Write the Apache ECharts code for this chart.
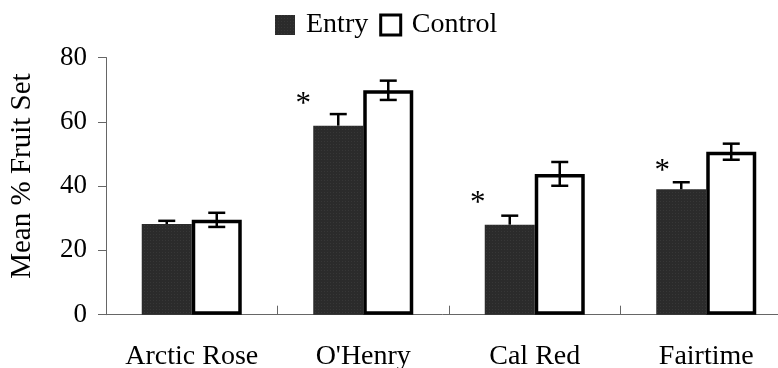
<!DOCTYPE html>
<html>
<head>
<meta charset="utf-8">
<script src="https://cdn.jsdelivr.net/npm/echarts@6/dist/echarts.min.js"></script>
<style>
html,body{margin:0;padding:0;background:#fff;}
#chart{width:778px;height:368px;}
</style>
</head>
<body>
<div id="chart"></div>
<script>
// ---- data ----
var categories = ['Arctic Rose', "O'Henry", 'Cal Red', 'Fairtime'];
var entryMean = [28.2, 58.8, 28.0, 39.0];
var entryErr = [1.0, 3.6, 2.8, 2.2];
var controlMean = [29.5, 69.8, 43.8, 50.7];
var controlErr = [2.2, 3.0, 3.7, 2.5];
var significant = [false, true, true, true];
var yTicks = [0, 20, 40, 60, 80];

var FONT = '"Liberation Serif", "Times New Roman", serif';

var chart = echarts.init(document.getElementById('chart'), null, {renderer: 'canvas'});

function errSeries(name, means, errs, dx, upperOnly) {
  return {
    type: 'custom',
    name: name + ' err',
    z: 10,
    silent: true,
    data: means.map(function (m, i) { return [i, m, errs[i]]; }),
    renderItem: function (params, api) {
      var i = api.value(0), m = api.value(1), e = api.value(2);
      var top = api.coord([i, m + e]);
      var bot = api.coord([i, upperOnly ? m : m - e]);
      var x = top[0] + dx;
      var cap = 8.5;
      var children = [
        {type: 'line', shape: {x1: x, y1: top[1], x2: x, y2: bot[1]}, style: {stroke: '#000', lineWidth: 2.5}},
        {type: 'line', shape: {x1: x - cap, y1: top[1], x2: x + cap, y2: top[1]}, style: {stroke: '#000', lineWidth: 2.5}}
      ];
      if (!upperOnly) {
        children.push({type: 'line', shape: {x1: x - cap, y1: bot[1], x2: x + cap, y2: bot[1]}, style: {stroke: '#000', lineWidth: 2.5}});
      }
      return {type: 'group', children: children};
    }
  };
}

var asteriskOffsets = [[0, 0], [-35, 0], [-32, 0], [-19, 3]];

var option = {
  backgroundColor: '#fff',
  animation: false,
  legend: {
    data: [
      {name: 'Entry', icon: 'rect'},
      {name: 'Control', icon: 'rect', itemStyle: {color: '#fff', borderColor: '#000', borderWidth: 3}}
    ],
    left: 275,
    top: 11,
    padding: 0,
    itemWidth: 20,
    itemHeight: 20,
    itemGap: 11,
    textStyle: {fontFamily: FONT, fontSize: 28, color: '#000', padding: [0, 0, 0, 6]}
  },
  grid: {left: 106, top: 57.5, width: 686, height: 257.2, outerBoundsMode: 'none', containLabel: false},
  xAxis: {
    type: 'category',
    data: categories,
    axisLine: {lineStyle: {color: '#666', width: 1}},
    axisTick: {show: true, inside: true, length: 9, interval: 0, lineStyle: {color: '#666'}},
    axisLabel: {fontFamily: FONT, fontSize: 28, color: '#000', margin: 28, interval: 0}
  },
  yAxis: {
    type: 'value',
    min: yTicks[0],
    max: yTicks[yTicks.length - 1],
    interval: 20,
    name: 'Mean % Fruit Set',
    nameLocation: 'middle',
    nameRotate: 90,
    nameGap: 69,
    nameTextStyle: {fontFamily: FONT, fontSize: 29, color: '#000', padding: [0, 0, 0, 20]},
    splitLine: {show: false},
    axisLine: {show: true, lineStyle: {color: '#666', width: 1}},
    axisTick: {show: true, length: 8, lineStyle: {color: '#666'}},
    axisLabel: {fontFamily: FONT, fontSize: 27, color: '#000', margin: 19}
  },
  series: [
    {
      name: 'Entry',
      type: 'bar',
      barWidth: 50,
      barGap: '0%',
      data: entryMean.map(function (v, i) {
        return {
          value: v,
          label: {
            show: significant[i],
            position: 'top',
            formatter: '*',
            offset: asteriskOffsets[i],
            fontFamily: FONT,
            fontSize: 31,
            color: '#000'
          }
        };
      }),
      itemStyle: {
        color: '#2b2b2b',
        decal: {
          symbol: 'rect',
          symbolSize: 0.5,
          dashArrayX: [1, 2],
          dashArrayY: [1, 2],
          color: 'rgba(150,150,150,0.45)'
        }
      }
    },
    {
      name: 'Control',
      type: 'bar',
      barWidth: 50,
      barGap: '0%',
      data: controlMean,
      itemStyle: {color: '#fff', borderColor: '#000', borderWidth: 3.5}
    },
    errSeries('Entry', entryMean, entryErr, -25, true),
    errSeries('Control', controlMean, controlErr, 25, false)
  ]
};
chart.setOption(option);
</script>
</body>
</html>
